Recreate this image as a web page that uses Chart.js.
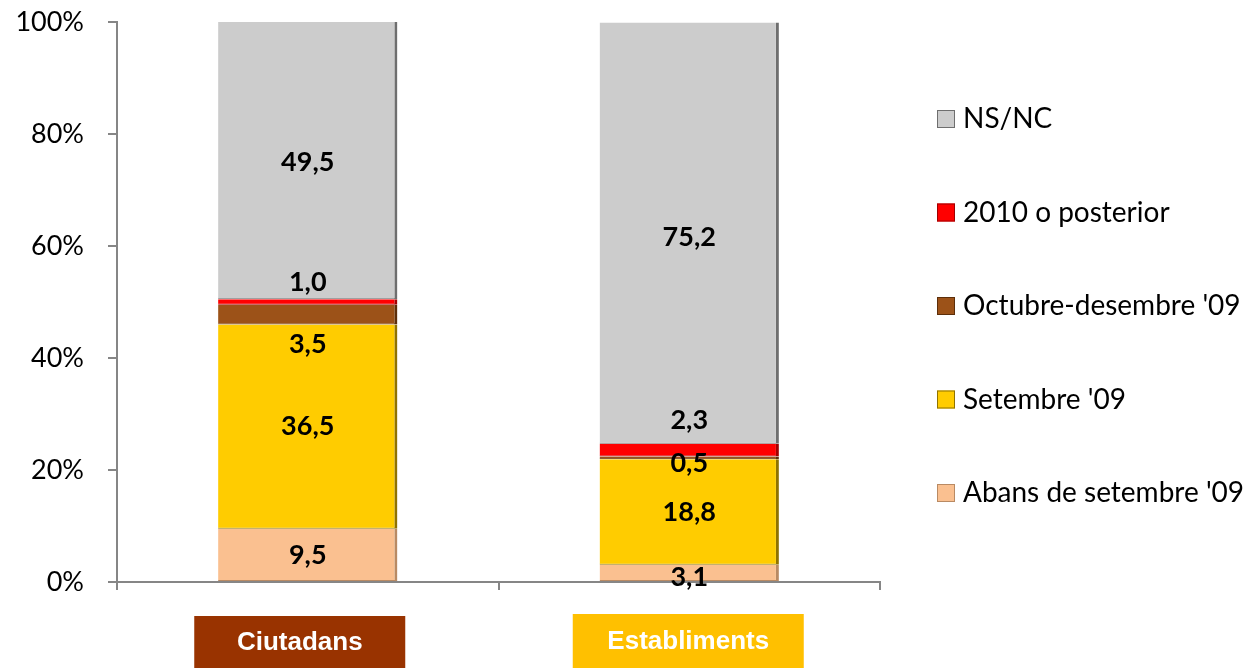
<!DOCTYPE html>
<html>
<head>
<meta charset="utf-8">
<script src="https://cdn.jsdelivr.net/npm/chart.js@4.4.1/dist/chart.umd.min.js"></script>
<style>
  html, body { margin: 0; padding: 0; background: #fff; }
  #wrap { width: 1260px; height: 669px; position: relative; }
</style>
</head>
<body>
<div id="wrap"><canvas id="stacked-bar-chart"></canvas></div>
<script>
const categories = ["Ciutadans", "Establiments"];
const abans = [9.5, 3.1];
const setembre = [36.5, 18.8];
const octubre = [3.5, 0.5];
const posterior = [1.0, 2.3];
const nsnc = [49.5, 75.2];

// label boxes under the bars
const catBoxes = [
    { color: "#993300", w: 211, h: 52, dx: -8, top: 616 },
    { color: "#FFC000", w: 231, h: 54, dx: -1, top: 614 }
];

// manual nudges for the small segment labels (dataset -> [cat0, cat1])
const labelShift = [[0, 4], [0, 0], [30, 5], [-20, -30], [2, 4]];

const valueLabels = {
    id: "valueLabels",
    afterDatasetsDraw(chart) {
        const ctx = chart.ctx;
        ctx.save();
        ctx.font = "bold 27px Lato";
        ctx.fillStyle = "#000";
        ctx.textAlign = "center";
        ctx.textBaseline = "middle";
        chart.data.datasets.forEach((ds, di) => {
            chart.getDatasetMeta(di).data.forEach((bar, i) => {
                const p = bar.getProps(["x", "y", "base"], true);
                const y = (p.y + p.base) / 2 + labelShift[di][i];
                ctx.fillText(ds.data[i].toFixed(1).replace(".", ","), p.x, y);
            });
        });
        ctx.restore();
    }
};

const categoryBoxes = {
    id: "categoryBoxes",
    afterDraw(chart) {
        const ctx = chart.ctx;
        const xs = chart.scales.x;
        ctx.save();
        ctx.font = "bold 26px 'Liberation Sans'";
        ctx.textAlign = "center";
        ctx.textBaseline = "middle";
        categories.forEach((c, i) => {
            const b = catBoxes[i];
            const cx = xs.getPixelForValue(i) + b.dx;
            ctx.fillStyle = b.color;
            ctx.fillRect(cx - b.w / 2, b.top, b.w, b.h);
            ctx.fillStyle = "#fff";
            ctx.fillText(c, cx, b.top + b.h / 2 + 1);
        });
        ctx.restore();
    }
};

// legend on the right, reversed, widely spaced
const sideLegend = {
    id: "sideLegend",
    afterDraw(chart) {
        const ctx = chart.ctx;
        const area = chart.chartArea;
        const items = chart.data.datasets.slice().reverse();
        const gap = 93.5;
        const mid = (area.top + area.bottom) / 2 + 4;
        const x0 = area.right + 57;
        ctx.save();
        ctx.font = "28px Lato";
        ctx.textBaseline = "middle";
        ctx.textAlign = "left";
        items.forEach((ds, k) => {
            const y = mid + (k - (items.length - 1) / 2) * gap;
            ctx.fillStyle = ds.backgroundColor;
            ctx.fillRect(x0, y - 9, 18, 18);
            ctx.strokeStyle = ds.borderColor;
            ctx.lineWidth = 1;
            ctx.strokeRect(x0 + 0.5, y - 8.5, 17, 17);
            ctx.fillStyle = "#000";
            ctx.fillText(ds.label, x0 + 26, y);
        });
        ctx.restore();
    }
};

new Chart(document.getElementById("stacked-bar-chart"), {
    type: 'bar',
    data: {
        labels: categories,
        datasets: [
            { label: "Abans de setembre '09", backgroundColor: "#FAC090", borderColor: "#B98A63", data: abans },
            { label: "Setembre '09", backgroundColor: "#FFCC00", borderColor: "#8F7200", data: setembre },
            { label: "Octubre-desembre '09", backgroundColor: "#9C5218", borderColor: "#5C2E0A", data: octubre },
            { label: "2010 o posterior", backgroundColor: "#FF0000", borderColor: "#A00000", data: posterior },
            { label: "NS/NC", backgroundColor: "#CCCCCC", borderColor: "#6E6E6E", data: nsnc }
        ]
    },
    plugins: [valueLabels, categoryBoxes, sideLegend],
    options: {
        maintainAspectRatio: false,
        responsive: true,
        animation: false,
        datasets: {
            bar: {
                categoryPercentage: 1,
                barPercentage: 0.47,
                borderWidth: { top: 0, left: 0, right: 3, bottom: 1 },
                borderSkipped: false
            }
        },
        layout: { padding: { left: 0, right: 380, top: 22, bottom: 79 } },
        plugins: {
            tooltip: { enabled: false },
            legend: { display: false }
        },
        scales: {
            x: {
                stacked: true,
                grid: { offset: true, drawOnChartArea: false, tickLength: 8, color: "#868686", lineWidth: 2 },
                border: { color: "#868686", width: 2 },
                ticks: { display: false }
            },
            y: {
                stacked: true,
                min: 0,
                max: 100,
                afterFit(scale) {
                    scale.width = 117;
                    scale.paddingTop = 0;
                    scale.paddingBottom = 0;
                },
                grid: { drawOnChartArea: false, tickLength: 9, color: "#868686", lineWidth: 2 },
                border: { color: "#868686", width: 2 },
                ticks: {
                    stepSize: 20,
                    padding: 24,
                    color: "#000",
                    font: { family: "Lato", size: 27 },
                    callback: v => v + "%"
                }
            }
        }
    }
});
</script>
</body>
</html>
